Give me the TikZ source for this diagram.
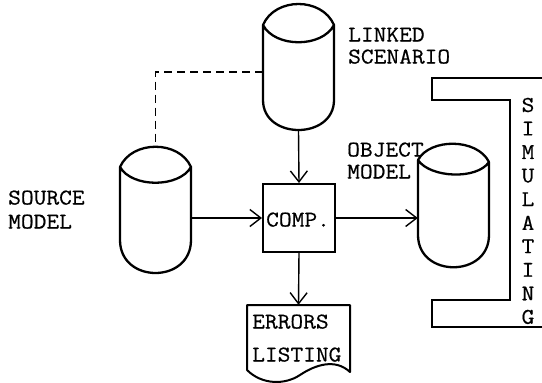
\documentclass[tikz,border=0pt]{standalone}
\usepackage{fontspec}
\setmonofont{Latin Modern Mono}[FakeStretch=1.1,FakeBold=0.6]
\usetikzlibrary{arrows.meta}
\tikzset{
  shapeline/.style={line width=2.3pt, line join=round, line cap=round},
  conn/.style={line width=1.4pt, -{Straight Barb[length=11pt,width=17pt,line width=1.4pt]}},
  dashconn/.style={line width=1.4pt, dash pattern=on 8pt off 5pt},
  brk/.style={line width=1.6pt},
  lbl/.style={anchor=base west, inner sep=0pt, font=\ttfamily\fontsize{22.5}{24}\selectfont},
  vl/.style={anchor=center, inner sep=0pt, font=\ttfamily\fontsize{22.5}{24}\selectfont},
  area/.style={draw=none, inner sep=0pt, minimum width=#1},
}
\begin{document}
\begin{tikzpicture}[x=1pt,y=-1pt]
\useasboundingbox (0,0) rectangle (542,383);
% invisible body nodes for connectors
\node[area=71pt, minimum height=126pt] (ls) at (298.5,67) {};
\node[area=71pt, minimum height=126pt] (src) at (155.5,210) {};
\node[area=71pt, minimum height=124pt] (obj) at (453.5,205) {};
\node[draw, line width=2pt, minimum width=72pt, minimum height=68pt, inner sep=0pt] (comp) at (299,218) {};
\node[area=103pt, minimum height=67pt] (errs) at (298.5,338.5) {};
% linked scenario cylinder
\draw[shapeline] (263,25) .. controls (275,-3) and (322,-3) .. (334,25)
  .. controls (322,48) and (275,48) .. (263,25) -- (263,100)
  .. controls (263,140) and (334,140) .. (334,100) -- (334,25);
% source cylinder
\draw[shapeline] (120,167) .. controls (132,140) and (179,140) .. (191,167)
  .. controls (179,188) and (132,188) .. (120,167) -- (120,240)
  .. controls (120,284) and (191,284) .. (191,240) -- (191,167);
% object cylinder
\draw[shapeline] (418,160) .. controls (430,138) and (477,138) .. (489,162)
  .. controls (477,180) and (430,178) .. (418,160) -- (418,235)
  .. controls (418,278) and (489,278) .. (489,235) -- (489,162);
% errors listing document
\draw[shapeline, line width=2pt] (247,370) -- (247,305) -- (350,305) -- (350,372)
  .. controls (335,358) and (315,365) .. (300,375)
  .. controls (285,385) and (262,385) .. (247,370);
% bracket
\draw[brk] (542,78) -- (432,78) -- (432,100) -- (510,100) -- (510,300) -- (432,300) -- (432,327) -- (542,327);
% connectors
\coordinate (dashy) at (0,72);
\draw[dashconn] (ls.west |- dashy) -| (src.north);
\draw[conn] (ls.south) -- (comp.north);
\draw[conn] (src.east |- comp.west) -- (comp.west);
\draw[conn] (comp.east) -- (obj.west |- comp.east);
\draw[conn] (comp.south) -- (errs.north);
% labels
\node[lbl] (t1) at (348,41.5) {LINKED};
\node[lbl] (t2) at (348,63.5) {SCENARIO};
\node[lbl] (t3) at (8,204.5) {SOURCE};
\node[lbl] (t4) at (8,228.5) {MODEL};
\node[lbl] (t5) at (347,156.5) {OBJECT};
\node[lbl] (t6) at (347,178.5) {MODEL};
\node[lbl] (t7) at (266,226.5) {COMP.};
\node[lbl] (t8) at (252,328.5) {ERRORS};
\node[lbl] (t9) at (252,361.5) {LISTING};
\foreach \ch [count=\i from 0] in {S,I,M,U,L,A,T,I,N,G}
  \node[vl] (s\i) at (528,105+23.55*\i) {\ch};
\end{tikzpicture}
\end{document}
